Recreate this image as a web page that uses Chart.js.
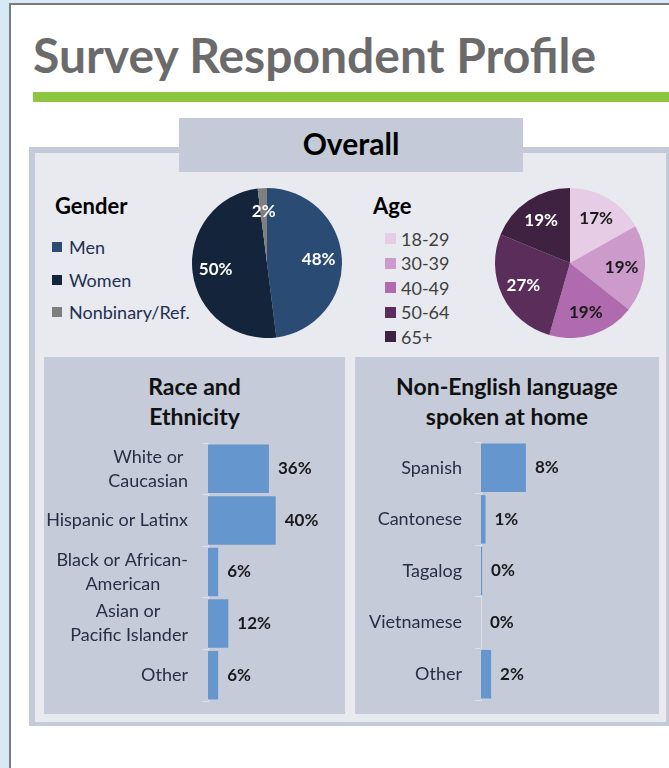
<!DOCTYPE html>
<html><head><meta charset="utf-8">
<script src="https://cdn.jsdelivr.net/npm/chart.js@4.4.1/dist/chart.umd.min.js"></script>
<style>
html,body{margin:0;padding:0;}
body{width:669px;height:768px;position:relative;overflow:hidden;background:#fff;font-family:Lato,"Open Sans",sans-serif;}
.abs{position:absolute;}
#stripTop{left:0;top:0;width:669px;height:3px;background:#d5eaf5;}
#lineTop{left:9px;top:3px;width:660px;height:2px;background:#7c7c7c;}
#stripLeft{left:0;top:0;width:9px;height:768px;background:#d5eaf5;}
#lineLeft{left:9px;top:3px;width:2px;height:765px;background:#7c7c7c;}
#title{left:33px;top:31px;font-size:48px;line-height:48px;font-weight:700;color:#6b6b6b;white-space:nowrap;}
#green{left:33px;top:92px;width:636px;height:10px;background:#8dc63f;}
#box{left:29px;top:147px;width:643px;height:579px;box-sizing:border-box;border:6px solid #c5cad8;border-bottom-width:4px;background:#e8eaf0;}
#tab{left:179px;top:118px;width:344px;height:54px;background:#c5cad8;}
#tabText{left:0;top:10px;width:344px;text-align:center;font-size:30px;line-height:30px;font-weight:700;color:#000;}
.sec{font-size:22px;line-height:22px;font-weight:700;color:#000;}
.panel{top:357px;height:357px;background:#c5cbd9;}
.ptitle{top:14px;left:0;right:0;text-align:center;font-size:23px;line-height:30px;font-weight:700;color:#111;}
.leg{display:flex;align-items:center;white-space:nowrap;font-size:18px;line-height:18px;}
.sw{display:inline-block;flex:none;}
canvas{position:absolute;}
</style></head>
<body>
<div class="abs" id="stripTop"></div>
<div class="abs" id="stripLeft"></div>
<div class="abs" id="lineTop"></div>
<div class="abs" id="lineLeft"></div>
<div class="abs" id="title">Survey Respondent Profile</div>
<div class="abs" id="green"></div>
<div class="abs" id="box"></div>
<div class="abs" id="tab"><div class="abs" id="tabText">Overall</div></div>
<div class="abs sec" style="left:55px;top:195px;">Gender</div>
<div class="abs sec" style="left:373px;top:195px;">Age</div>
<div id="genderLegend"></div>
<div id="ageLegend"></div>
<div class="abs panel" style="left:44px;width:301px;"><div class="abs ptitle">Race and<br>Ethnicity</div></div>
<div class="abs panel" style="left:355px;width:304px;"><div class="abs ptitle">Non-English language<br>spoken at home</div></div>
<canvas id="genderPie" width="150" height="150" style="left:192px;top:188px;"></canvas>
<canvas id="agePie" width="150" height="150" style="left:495px;top:188px;"></canvas>
<canvas id="raceBar" width="300" height="272" style="left:44px;top:436px;"></canvas>
<canvas id="langBar" width="304" height="272" style="left:355px;top:436px;"></canvas>
<script>
// ---------- data ----------
const genderLabels = ['Men', 'Women', 'Nonbinary/Ref.'];
const genderValues = [48, 50, 2];
const ageLabels = ['18-29', '30-39', '40-49', '50-64', '65+'];
const ageValues = [17, 19, 19, 27, 19];
const raceLabels = [['White or', 'Caucasian'], 'Hispanic or Latinx', ['Black or African-', 'American'], ['Asian or', 'Pacific Islander'], 'Other'];
const raceValues = [36, 40, 6, 12, 6];
const langLabels = ['Spanish', 'Cantonese', 'Tagalog', 'Vietnamese', 'Other'];
const langValues = [8, 0.8, 0.2, 0, 1.8];

// ---------- styles ----------
const genderColors = ['#2a4b74', '#14243b', '#7f7f7f'];
const genderText = ['#fff', '#fff', '#fff'];
const ageColors = ['#e6cde5', '#cc9bcb', '#b06aae', '#5a2d5a', '#3f2141'];
const ageText = ['#1a1a1a', '#1a1a1a', '#1a1a1a', '#fff', '#fff'];
const barColor = '#6596cd';
const FONT = 'Lato, "Open Sans", sans-serif';
Chart.defaults.font.family = FONT;

function buildLegend(id, labels, colors, left, top, step, sq, gap, color) {
  const host = document.getElementById(id);
  labels.forEach((l, i) => {
    const d = document.createElement('div');
    d.className = 'abs leg';
    d.style.left = left + 'px';
    d.style.top = (top + i * step - (18 - sq) / 2) + 'px';
    d.style.height = '18px';
    d.style.color = color;
    const s = document.createElement('span');
    s.className = 'sw';
    s.style.width = sq + 'px'; s.style.height = sq + 'px';
    s.style.background = colors[i];
    s.style.marginRight = gap + 'px';
    d.appendChild(s);
    d.appendChild(document.createTextNode(l));
    host.appendChild(d);
  });
}
buildLegend('genderLegend', genderLabels, genderColors, 52, 242, 32.5, 10, 7, '#1f3050');
buildLegend('ageLegend', ageLabels, ageColors, 385, 233, 24.5, 11, 5, '#3f3f3f');

const pieLabelPlugin = {
  id: 'pieLabels',
  afterDatasetsDraw(chart, args, opts) {
    const ctx = chart.ctx;
    const meta = chart.getDatasetMeta(0);
    const data = chart.data.datasets[0].data;
    ctx.save();
    ctx.font = 'bold 17px ' + FONT;
    ctx.textAlign = 'center';
    ctx.textBaseline = 'middle';
    meta.data.forEach((arc, i) => {
      const mid = (arc.startAngle + arc.endAngle) / 2;
      const r = arc.outerRadius * opts.ratio;
      ctx.fillStyle = opts.colors[i];
      ctx.fillText(data[i] + '%', arc.x + Math.cos(mid) * r, arc.y + Math.sin(mid) * r);
    });
    ctx.restore();
  }
};

function makePie(id, labels, values, colors, textColors) {
  new Chart(document.getElementById(id), {
    type: 'pie',
    data: { labels, datasets: [{ data: values, backgroundColor: colors, borderWidth: 0 }] },
    options: {
      responsive: false, animation: false,
      layout: { padding: 0 },
      plugins: { legend: { display: false }, tooltip: { enabled: false },
        pieLabels: { ratio: 0.69, colors: textColors } }
    },
    plugins: [pieLabelPlugin]
  });
}
makePie('genderPie', genderLabels, genderValues, genderColors, genderText);
makePie('agePie', ageLabels, ageValues, ageColors, ageText);

const barLabelPlugin = {
  id: 'barLabels',
  afterDatasetsDraw(chart) {
    const ctx = chart.ctx;
    const meta = chart.getDatasetMeta(0);
    const data = chart.data.datasets[0].data;
    ctx.save();
    ctx.font = 'bold 17px ' + FONT;
    ctx.fillStyle = '#1a1a1a';
    ctx.textAlign = 'left';
    ctx.textBaseline = 'middle';
    meta.data.forEach((bar, i) => {
      ctx.fillText(Math.round(data[i]) + '%', bar.x + 9, bar.y);
    });
    ctx.restore();
  }
};

const TICK_SIZE = 18;
const measureCtx = document.createElement('canvas').getContext('2d');
measureCtx.font = TICK_SIZE + 'px ' + FONT;
function centerLines(label) {
  if (!Array.isArray(label)) return label;
  const sp = measureCtx.measureText(' ').width;
  const widths = label.map(l => measureCtx.measureText(l).width);
  const maxW = Math.max(...widths);
  return label.map((l, i) => l + ' '.repeat(Math.round((maxW - widths[i]) / 2 / sp)));
}

function makeBar(id, labels, values, axisWidth, xMax, padTop, padBottom, tickPad) {
  new Chart(document.getElementById(id), {
    type: 'bar',
    data: { labels, datasets: [{ data: values, backgroundColor: barColor, borderWidth: 0,
      barPercentage: 0.94, categoryPercentage: 1 }] },
    options: {
      indexAxis: 'y', responsive: false, animation: false,
      layout: { padding: { top: padTop, bottom: padBottom, left: 0, right: 4 } },
      plugins: { legend: { display: false }, tooltip: { enabled: false } },
      scales: {
        x: { display: false, min: 0, max: xMax },
        y: {
          afterFit(scale) { scale.width = axisWidth; scale.paddingTop = 0; scale.paddingBottom = 0; },
          border: { display: true, color: '#dcdfe6', width: 1 },
          grid: { offset: true, drawOnChartArea: false, drawTicks: true, tickLength: 6, color: '#dcdfe6' },
          ticks: { color: '#262f45', padding: tickPad, font: { size: TICK_SIZE, lineHeight: 24 / TICK_SIZE },
            callback(value) { return centerLines(this.getLabelForValue(value)); } }
        }
      }
    },
    plugins: [barLabelPlugin]
  });
}
makeBar('raceBar', raceLabels, raceValues, 164, 78, 7, 7, 14);
makeBar('langBar', langLabels, langValues, 126, 31, 6, 8, 13);
</script>
</body></html>
